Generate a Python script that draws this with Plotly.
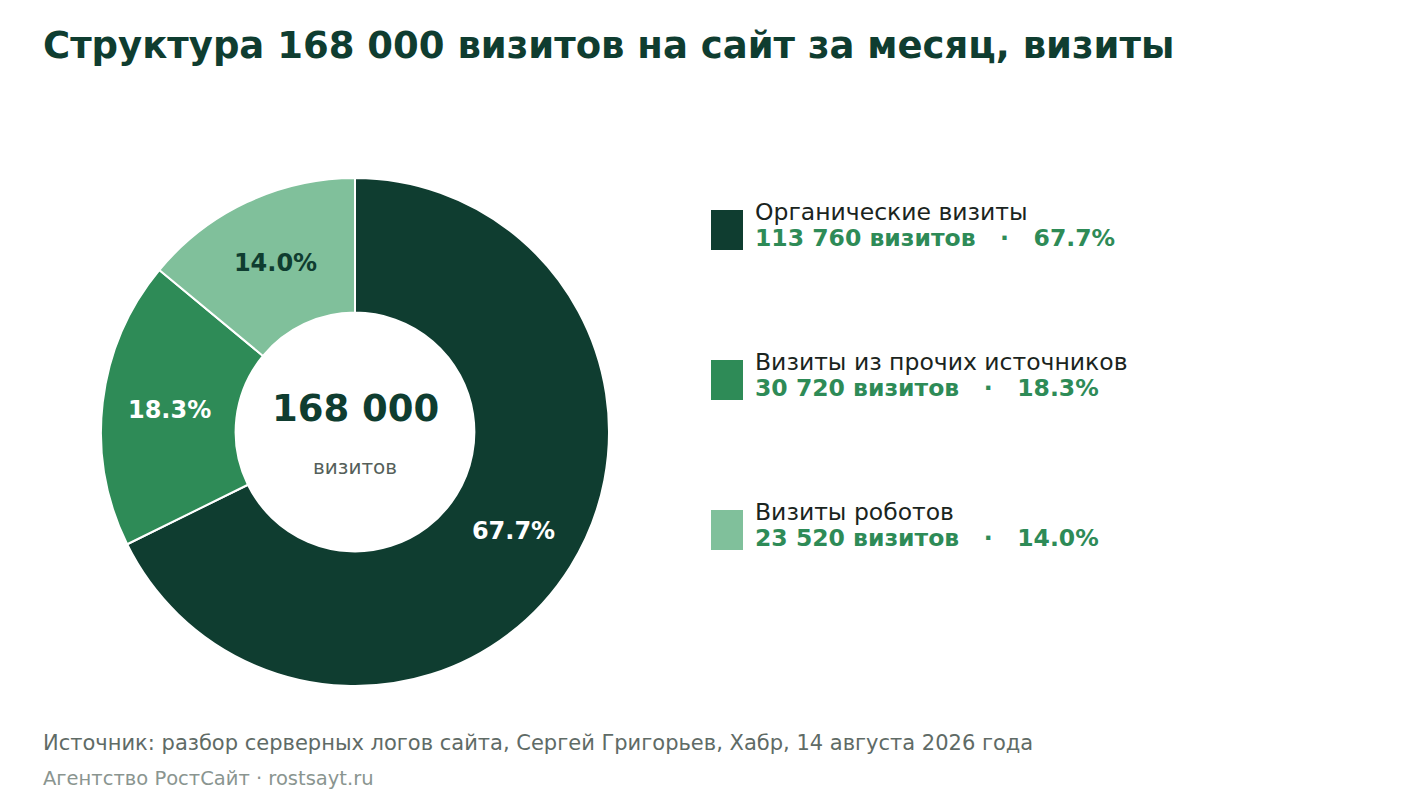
import plotly.graph_objects as go

# данные
categories = ['Органические визиты', 'Визиты из прочих источников', 'Визиты роботов']
visits = [113760, 30720, 23520]
colors = ['#0f3d30', '#2e8b57', '#80c09b']
label_colors = ['white', 'white', '#0f3d30']

total = sum(visits)
W, H = 1422, 800
OFF = 8  # отступ body у страницы
FONT = 'DejaVu Sans'


def fmt(n):
    '''число с пробелом между разрядами'''
    return f'{n:,}'.replace(',', ' ')


def px(x, y):
    '''пиксели экрана -> доли холста'''
    return (x - OFF) / W, 1 - (y - OFF) / H


fig = go.Figure()

dx0, dy0 = px(101, 686)
dx1, dy1 = px(609, 178)
fig.add_trace(go.Pie(
    labels=categories, values=visits,
    sort=False, direction='clockwise', rotation=0,
    hole=0.47,
    marker=dict(colors=colors, line=dict(color='white', width=2)),
    texttemplate='%{percent:.1%}',
    textposition='inside',
    insidetextorientation='horizontal',
    textfont=dict(family=FONT, size=24, color=label_colors, weight='bold'),
    hoverinfo='label+value+percent',
    domain=dict(x=[dx0, dx1], y=[dy0, dy1]),
))

annotations = []
shapes = []

# заголовок
x0, y0 = px(41, 46)
annotations.append(dict(
    text='<b>Структура ' + fmt(total) + ' визитов на сайт за месяц, визиты</b>',
    x=x0, y=y0, xanchor='left', yanchor='middle', showarrow=False,
    font=dict(family=FONT, size=37, color='#0f3d30')))

# центр кольца
cx, cy = px(355, 408)
annotations.append(dict(text='<b>' + fmt(total) + '</b>', x=cx, y=cy,
                        xanchor='center', yanchor='middle', showarrow=False,
                        font=dict(family=FONT, size=37, color='#0f3d30')))
cx, cy = px(355, 467)
annotations.append(dict(text='визитов', x=cx, y=cy,
                        xanchor='center', yanchor='middle', showarrow=False,
                        font=dict(family=FONT, size=20, color='#555f5a')))

# легенда справа
sep = '\u00a0' * 3 + '·' + '\u00a0' * 3
for i, (name, v, c) in enumerate(zip(categories, visits, colors)):
    top = 210 + i * 150
    sx0, sy0 = px(711, top + 40)
    sx1, sy1 = px(743, top)
    shapes.append(dict(type='rect', xref='paper', yref='paper',
                       x0=sx0, x1=sx1, y0=sy0, y1=sy1,
                       fillcolor=c, line=dict(width=0)))
    lx, ly = px(753, top + 2)
    annotations.append(dict(text=name, x=lx, y=ly, xanchor='left', yanchor='middle',
                            showarrow=False,
                            font=dict(family=FONT, size=23.5, color='#1a2420')))
    lx, ly = px(753, top + 28)
    pct = f'{v / total * 100:.1f}%'
    annotations.append(dict(text='<b>' + fmt(v) + ' визитов' + sep + pct + '</b>',
                            x=lx, y=ly, xanchor='left', yanchor='middle',
                            showarrow=False,
                            font=dict(family=FONT, size=23.5, color='#2e8b57')))

# подписи внизу
fx, fy = px(41, 743)
annotations.append(dict(
    text='Источник: разбор серверных логов сайта, Сергей Григорьев, Хабр, 14 августа 2026 года',
    x=fx, y=fy, xanchor='left', yanchor='middle', showarrow=False,
    font=dict(family=FONT, size=21, color='#5f6b66')))
fx, fy = px(41, 778)
annotations.append(dict(
    text='Агентство РостСайт · rostsayt.ru',
    x=fx, y=fy, xanchor='left', yanchor='middle', showarrow=False,
    font=dict(family=FONT, size=19.5, color='#8a9590')))

fig.update_layout(
    width=W, height=H,
    margin=dict(l=0, r=0, t=0, b=0),
    paper_bgcolor='white', plot_bgcolor='white',
    showlegend=False,
    annotations=annotations, shapes=shapes,
)

fig.write_html('out.html')
